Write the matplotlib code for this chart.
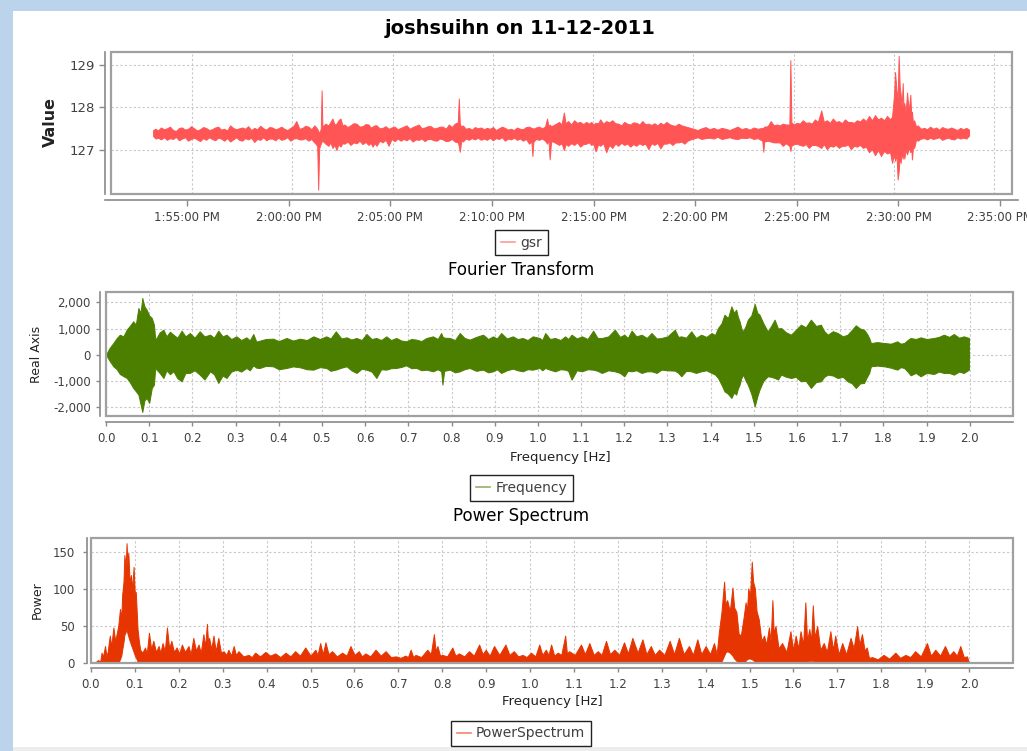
import numpy as np
import pandas as pd
import matplotlib
matplotlib.use('Agg')
import matplotlib.pyplot as plt
import matplotlib.dates as mdates
from matplotlib.patches import Rectangle
from matplotlib.lines import Line2D
from matplotlib.ticker import FuncFormatter, MultipleLocator

# gsr trace: minutes after 1:55 PM, upper / lower edge of the trace
gsr_min = [-1.94, -1.82, -1.70, -1.55, -1.40, -1.25, -1.10, -0.95, -0.80, -0.65,
           -0.50, -0.35, -0.20, -0.05, 0.10, 0.25, 0.40, 0.55, 0.70, 0.85,
           1.00, 1.15, 1.30, 1.45, 1.60, 1.75, 1.90, 2.05, 2.20, 2.35,
           2.50, 2.65, 2.80, 2.95, 3.10, 3.25, 3.40, 3.55, 3.70, 3.85,
           4.00, 4.15, 4.30, 4.45, 4.60, 4.75, 4.90, 5.05, 5.20, 5.35,
           5.50, 5.65, 5.80, 5.95, 6.10, 6.24, 6.29, 6.34, 6.42, 6.46,
           6.50, 6.65, 6.80, 6.90, 7.00, 7.10, 7.20, 7.30, 7.40, 7.50,
           7.60, 7.75, 7.90, 8.05, 8.20, 8.35, 8.50, 8.65, 8.80, 8.90,
           9.00, 9.10, 9.20, 9.35, 9.50, 9.65, 9.80, 9.95, 10.10, 10.25,
           10.40, 10.55, 10.70, 10.85, 11.00, 11.15, 11.30, 11.45, 11.60, 11.75,
           11.90, 12.05, 12.20, 12.35, 12.50, 12.65, 12.80, 12.95, 13.10, 13.25,
           13.30, 13.35, 13.42, 13.50, 13.65, 13.80, 13.95, 14.10, 14.25, 14.40,
           14.55, 14.70, 14.85, 15.00, 15.15, 15.30, 15.45, 15.60, 15.75, 15.90,
           16.05, 16.20, 16.35, 16.50, 16.65, 16.80, 16.92, 16.97, 17.02, 17.15,
           17.30, 17.45, 17.60, 17.70, 17.77, 17.83, 17.90, 18.00, 18.15, 18.30,
           18.42, 18.54, 18.62, 18.75, 18.90, 19.05, 19.20, 19.35, 19.50, 19.65,
           19.80, 19.90, 20.00, 20.12, 20.25, 20.35, 20.50, 20.65, 20.80, 20.95,
           21.10, 21.25, 21.40, 21.55, 21.70, 21.85, 22.00, 22.15, 22.30, 22.45,
           22.60, 22.75, 22.90, 23.05, 23.20, 23.35, 23.50, 23.65, 23.80, 23.95,
           24.10, 24.25, 24.40, 24.55, 24.70, 24.85, 25.00, 25.20, 25.40, 25.60,
           25.80, 26.00, 26.20, 26.40, 26.60, 26.80, 27.00, 27.20, 27.40, 27.60,
           27.80, 28.00, 28.20, 28.43, 28.48, 28.53, 28.70, 28.85, 29.00, 29.15,
           29.30, 29.45, 29.60, 29.78, 29.83, 29.88, 30.00, 30.15, 30.30, 30.45,
           30.60, 30.75, 30.90, 31.05, 31.20, 31.37, 31.50, 31.65, 31.80, 31.95,
           32.10, 32.25, 32.40, 32.55, 32.70, 32.85, 33.00, 33.15, 33.30, 33.45,
           33.60, 33.75, 33.90, 34.05, 34.20, 34.35, 34.50, 34.65, 34.80, 34.90,
           35.00, 35.05, 35.12, 35.18, 35.23, 35.28, 35.33, 35.38, 35.43, 35.47,
           35.51, 35.58, 35.65, 35.73, 35.81, 35.86, 35.89, 35.95, 36.00, 36.10,
           36.18, 36.34, 36.50, 36.65, 36.80, 36.95, 37.10, 37.25, 37.40, 37.55,
           37.70, 37.85, 38.00, 38.15, 38.30, 38.45, 38.60, 38.74]
gsr_hi = [127.47, 127.50, 127.46, 127.53, 127.49, 127.51, 127.55, 127.47, 127.45, 127.52,
          127.53, 127.48, 127.50, 127.56, 127.51, 127.46, 127.49, 127.54, 127.52, 127.47,
          127.49, 127.53, 127.55, 127.48, 127.50, 127.46, 127.58, 127.52, 127.49, 127.51,
          127.53, 127.50, 127.56, 127.47, 127.52, 127.49, 127.57, 127.51, 127.48, 127.54,
          127.53, 127.49, 127.51, 127.55, 127.50, 127.47, 127.52, 127.56, 127.68, 127.50,
          127.52, 127.57, 127.55, 127.49, 127.58, 127.50, 127.45, 127.40, 127.50, 128.40,
          127.55, 127.62, 127.58, 127.66, 127.74, 127.60, 127.62, 127.70, 127.74, 127.58,
          127.60, 127.54, 127.58, 127.63, 127.62, 127.55, 127.56, 127.61, 127.60, 127.53,
          127.55, 127.58, 127.58, 127.51, 127.52, 127.56, 127.50, 127.53, 127.55, 127.49,
          127.52, 127.55, 127.58, 127.50, 127.54, 127.57, 127.60, 127.51, 127.53, 127.56,
          127.56, 127.51, 127.52, 127.55, 127.55, 127.50, 127.60, 127.54, 127.62, 127.65,
          128.21, 127.62, 127.55, 127.58, 127.50, 127.52, 127.48, 127.54, 127.51, 127.53,
          127.49, 127.52, 127.50, 127.54, 127.47, 127.51, 127.55, 127.52, 127.48, 127.50,
          127.47, 127.53, 127.50, 127.49, 127.54, 127.55, 127.52, 127.52, 127.50, 127.53,
          127.55, 127.51, 127.55, 127.74, 127.55, 127.60, 127.56, 127.58, 127.62, 127.66,
          127.60, 127.88, 127.63, 127.68, 127.60, 127.70, 127.64, 127.66, 127.61, 127.66,
          127.62, 127.66, 127.60, 127.64, 127.63, 127.72, 127.62, 127.68, 127.65, 127.70,
          127.63, 127.62, 127.58, 127.66, 127.62, 127.60, 127.65, 127.64, 127.60, 127.68,
          127.61, 127.62, 127.59, 127.63, 127.58, 127.64, 127.60, 127.66, 127.61, 127.58,
          127.57, 127.62, 127.58, 127.56, 127.54, 127.52, 127.50, 127.47, 127.51, 127.54,
          127.49, 127.52, 127.48, 127.52, 127.50, 127.47, 127.51, 127.55, 127.49, 127.52,
          127.48, 127.53, 127.50, 127.52, 127.52, 127.55, 127.56, 127.68, 127.58, 127.60,
          127.58, 127.62, 127.60, 127.60, 129.11, 127.65, 127.60, 127.64, 127.62, 127.70,
          127.64, 127.65, 127.62, 127.72, 127.66, 127.93, 127.66, 127.70, 127.64, 127.74,
          127.66, 127.68, 127.63, 127.72, 127.66, 127.66, 127.64, 127.70, 127.67, 127.74,
          127.68, 127.80, 127.70, 127.82, 127.72, 127.76, 127.70, 127.80, 127.72, 127.78,
          128.30, 128.83, 128.40, 128.20, 129.21, 128.50, 128.30, 128.00, 128.57, 128.00,
          128.10, 127.90, 128.35, 127.90, 128.30, 127.80, 127.90, 127.60, 127.70, 127.55,
          127.58, 127.50, 127.52, 127.49, 127.55, 127.50, 127.53, 127.48, 127.54, 127.51,
          127.50, 127.53, 127.50, 127.47, 127.52, 127.49, 127.52, 127.48]
gsr_lo = [127.33, 127.27, 127.29, 127.25, 127.30, 127.24, 127.28, 127.26, 127.31, 127.23,
          127.27, 127.30, 127.22, 127.26, 127.29, 127.25, 127.21, 127.28, 127.24, 127.30,
          127.26, 127.23, 127.29, 127.27, 127.22, 127.28, 127.20, 127.25, 127.30, 127.24,
          127.22, 127.28, 127.25, 127.29, 127.19, 127.26, 127.24, 127.30, 127.23, 127.27,
          127.27, 127.23, 127.29, 127.24, 127.26, 127.30, 127.22, 127.27, 127.28, 127.25,
          127.25, 127.28, 127.22, 127.26, 127.18, 127.10, 126.07, 127.05, 127.15, 127.20,
          127.22, 127.15, 127.10, 127.18, 127.05, 127.12, 127.00, 127.14, 127.08, 127.16,
          127.15, 127.20, 127.12, 127.18, 127.16, 127.22, 127.14, 127.19, 127.12, 127.17,
          127.08, 127.16, 127.10, 127.22, 127.18, 127.24, 127.10, 127.26, 127.21, 127.27,
          127.22, 127.26, 127.23, 127.28, 127.20, 127.25, 127.24, 127.27, 127.21, 127.26,
          127.26, 127.23, 127.22, 127.27, 127.25, 127.21, 127.22, 127.26, 127.20, 127.18,
          127.10, 126.96, 127.22, 127.20, 127.27, 127.24, 127.28, 127.25, 127.29, 127.24,
          127.27, 127.24, 127.29, 127.23, 127.28, 127.26, 127.30, 127.22, 127.27, 127.25,
          127.29, 127.24, 127.27, 127.22, 127.26, 127.15, 127.20, 126.86, 127.20, 127.26,
          127.24, 127.27, 127.22, 127.15, 127.25, 126.78, 127.20, 127.20, 127.16, 127.12,
          127.16, 127.00, 127.14, 127.10, 127.16, 127.12, 127.18, 127.08, 127.14, 127.15,
          127.18, 127.12, 127.15, 126.97, 127.14, 127.10, 127.16, 126.95, 127.12, 127.05,
          127.15, 127.10, 127.17, 127.12, 127.15, 127.08, 127.14, 127.10, 127.16, 127.12,
          127.15, 127.02, 127.16, 127.12, 127.17, 127.04, 127.15, 127.15, 127.18, 127.12,
          127.18, 127.18, 127.20, 127.15, 127.22, 127.25, 127.27, 127.30, 127.26, 127.28,
          127.29, 127.27, 127.31, 127.26, 127.28, 127.30, 127.27, 127.26, 127.29, 127.28,
          127.30, 127.26, 127.28, 127.22, 126.96, 127.20, 127.22, 127.20, 127.18, 127.18,
          127.18, 127.10, 127.16, 127.10, 126.98, 127.10, 127.14, 127.15, 127.12, 127.10,
          127.14, 127.05, 127.12, 127.12, 127.10, 127.05, 127.14, 127.02, 127.10, 127.08,
          127.12, 127.05, 127.10, 127.10, 127.13, 127.02, 127.10, 127.08, 127.12, 127.05,
          127.08, 126.95, 127.02, 126.88, 127.00, 126.86, 126.98, 126.92, 126.95, 126.70,
          126.90, 126.75, 126.90, 126.31, 126.50, 126.85, 126.70, 126.95, 126.80, 127.00,
          126.80, 127.00, 126.90, 127.05, 126.95, 127.05, 126.78, 127.10, 127.05, 127.25,
          127.22, 127.27, 127.28, 127.25, 127.29, 127.26, 127.28, 127.30, 127.24, 127.27,
          127.29, 127.26, 127.25, 127.30, 127.27, 127.29, 127.27, 127.34]

# fourier transform (real part): upper / lower edge
fft_hz = [0.000, 0.008, 0.017, 0.025, 0.032, 0.040, 0.048, 0.055, 0.063, 0.069,
          0.075, 0.080, 0.084, 0.089, 0.094, 0.100, 0.106, 0.111, 0.114, 0.117,
          0.124, 0.133, 0.140, 0.148, 0.156, 0.165, 0.175, 0.184, 0.194, 0.205,
          0.217, 0.228, 0.241, 0.250, 0.260, 0.270, 0.279, 0.290, 0.302, 0.313,
          0.325, 0.333, 0.341, 0.348, 0.356, 0.370, 0.387, 0.400, 0.418, 0.433,
          0.449, 0.465, 0.480, 0.495, 0.510, 0.520, 0.532, 0.545, 0.557, 0.568,
          0.580, 0.592, 0.603, 0.615, 0.626, 0.637, 0.649, 0.660, 0.672, 0.684,
          0.695, 0.707, 0.719, 0.730, 0.742, 0.757, 0.768, 0.776, 0.779, 0.783,
          0.796, 0.808, 0.819, 0.830, 0.842, 0.857, 0.873, 0.885, 0.896, 0.905,
          0.915, 0.928, 0.942, 0.953, 0.965, 0.976, 0.988, 1.004, 1.010, 1.017,
          1.028, 1.040, 1.052, 1.063, 1.070, 1.078, 1.090, 1.102, 1.115, 1.128,
          1.138, 1.148, 1.163, 1.178, 1.190, 1.200, 1.208, 1.217, 1.228, 1.240,
          1.252, 1.263, 1.275, 1.286, 1.300, 1.317, 1.325, 1.332, 1.343, 1.355,
          1.366, 1.378, 1.390, 1.402, 1.410, 1.417, 1.425, 1.432, 1.440, 1.448,
          1.454, 1.459, 1.463, 1.467, 1.471, 1.475, 1.481, 1.486, 1.494, 1.502,
          1.508, 1.513, 1.522, 1.532, 1.540, 1.548, 1.556, 1.563, 1.575, 1.586,
          1.597, 1.609, 1.620, 1.632, 1.644, 1.655, 1.663, 1.671, 1.683, 1.694,
          1.706, 1.717, 1.727, 1.736, 1.746, 1.755, 1.762, 1.767, 1.771, 1.786,
          1.802, 1.817, 1.832, 1.840, 1.848, 1.856, 1.863, 1.875, 1.886, 1.900,
          1.917, 1.928, 1.940, 1.952, 1.963, 1.975, 1.986, 1.998]
fft_hi = [0, 250, 447, 640, 766, 700, 958, 1100, 1277, 1150,
          1788, 1600, 2171, 1850, 1724, 1500, 1405, 1149, 600, 639,
          850, 958, 700, 880, 766, 650, 919, 700, 830, 650,
          894, 700, 766, 650, 919, 700, 766, 600, 702, 560,
          664, 550, 792, 500, 536, 600, 613, 520, 639, 540,
          613, 560, 702, 600, 702, 620, 894, 620, 664, 580,
          639, 560, 792, 600, 639, 560, 702, 560, 639, 540,
          511, 600, 575, 520, 639, 702, 600, 830, 700, 650,
          639, 560, 830, 640, 575, 680, 766, 600, 702, 620,
          830, 620, 702, 600, 639, 560, 702, 639, 560, 830,
          600, 639, 560, 702, 600, 766, 620, 702, 600, 919,
          640, 639, 700, 958, 680, 766, 640, 919, 700, 766,
          640, 830, 620, 639, 700, 958, 680, 702, 650, 894,
          640, 766, 680, 830, 750, 1022, 1200, 1532, 1400, 1852,
          1600, 1724, 1450, 1277, 1000, 894, 1100, 1341, 1500, 1941,
          1600, 1532, 1200, 894, 1100, 1341, 1000, 1022, 850, 766,
          950, 1149, 1050, 1341, 1100, 1149, 900, 766, 900, 830,
          700, 766, 950, 1124, 1000, 958, 800, 639, 447, 480,
          447, 420, 511, 420, 447, 560, 639, 600, 664, 600,
          639, 680, 766, 680, 792, 650, 702, 639]
fft_lo = [0, -230, -447, -560, -741, -820, -894, -1050, -1277, -1400,
          -1532, -1900, -2196, -1750, -1660, -1850, -1277, -1149, -500, -575,
          -700, -894, -600, -750, -639, -900, -1022, -700, -702, -600,
          -766, -950, -639, -750, -1085, -800, -894, -650, -575, -650,
          -511, -600, -409, -500, -511, -430, -447, -560, -511, -450,
          -485, -560, -575, -480, -511, -620, -575, -500, -447, -600,
          -702, -540, -575, -650, -894, -560, -575, -520, -511, -470,
          -409, -520, -511, -600, -575, -639, -560, -639, -1149, -620,
          -575, -680, -639, -560, -511, -620, -575, -680, -639, -560,
          -702, -600, -537, -600, -639, -560, -575, -511, -600, -511,
          -580, -639, -560, -575, -620, -958, -600, -639, -560, -575,
          -620, -702, -600, -639, -700, -830, -620, -639, -600, -702,
          -640, -639, -700, -575, -600, -613, -700, -830, -620, -639,
          -700, -639, -600, -702, -760, -894, -1150, -1405, -1500, -1660,
          -1450, -1532, -1300, -1149, -900, -766, -1000, -1149, -1500, -1979,
          -1600, -1341, -1000, -830, -850, -894, -950, -766, -850, -894,
          -850, -1022, -1000, -1277, -1050, -1022, -850, -766, -800, -894,
          -850, -1022, -1100, -1277, -1100, -1085, -850, -702, -447, -420,
          -447, -500, -575, -480, -511, -650, -792, -700, -830, -700,
          -741, -650, -702, -700, -766, -650, -702, -575]

# power spectrum: upper / lower edge
pow_hz = [0.000, 0.010, 0.016, 0.021, 0.024, 0.027, 0.032, 0.035, 0.038, 0.041,
          0.043, 0.046, 0.051, 0.055, 0.059, 0.062, 0.066, 0.069, 0.071, 0.074,
          0.076, 0.079, 0.081, 0.083, 0.085, 0.088, 0.091, 0.094, 0.097, 0.100,
          0.102, 0.106, 0.109, 0.112, 0.117, 0.123, 0.127, 0.132, 0.137, 0.142,
          0.148, 0.154, 0.158, 0.163, 0.168, 0.173, 0.178, 0.183, 0.189, 0.195,
          0.201, 0.207, 0.214, 0.222, 0.227, 0.233, 0.239, 0.245, 0.250, 0.256,
          0.260, 0.264, 0.267, 0.269, 0.274, 0.279, 0.284, 0.290, 0.296, 0.302,
          0.308, 0.313, 0.319, 0.325, 0.330, 0.336, 0.347, 0.359, 0.366, 0.374,
          0.385, 0.397, 0.408, 0.420, 0.431, 0.443, 0.454, 0.465, 0.476, 0.488,
          0.500, 0.511, 0.516, 0.522, 0.528, 0.534, 0.541, 0.549, 0.560, 0.572,
          0.582, 0.591, 0.600, 0.610, 0.617, 0.625, 0.636, 0.648, 0.660, 0.671,
          0.683, 0.694, 0.705, 0.716, 0.722, 0.728, 0.734, 0.739, 0.752, 0.766,
          0.774, 0.781, 0.785, 0.789, 0.795, 0.800, 0.811, 0.823, 0.830, 0.838,
          0.850, 0.861, 0.872, 0.884, 0.892, 0.899, 0.908, 0.918, 0.930, 0.944,
          0.953, 0.963, 0.973, 0.983, 0.992, 1.002, 1.012, 1.021, 1.028, 1.036,
          1.042, 1.048, 1.055, 1.063, 1.071, 1.080, 1.084, 1.089, 1.102, 1.116,
          1.125, 1.135, 1.145, 1.154, 1.163, 1.173, 1.182, 1.192, 1.203, 1.214,
          1.223, 1.233, 1.245, 1.256, 1.265, 1.275, 1.284, 1.294, 1.306, 1.318,
          1.328, 1.339, 1.350, 1.362, 1.371, 1.381, 1.390, 1.400, 1.410, 1.419,
          1.425, 1.430, 1.433, 1.436, 1.439, 1.442, 1.445, 1.449, 1.455, 1.461,
          1.465, 1.470, 1.475, 1.480, 1.486, 1.491, 1.494, 1.497, 1.501, 1.505,
          1.508, 1.512, 1.516, 1.521, 1.527, 1.533, 1.538, 1.544, 1.548, 1.552,
          1.555, 1.559, 1.566, 1.574, 1.584, 1.593, 1.599, 1.605, 1.611, 1.616,
          1.622, 1.627, 1.631, 1.636, 1.640, 1.644, 1.648, 1.654, 1.661, 1.669,
          1.676, 1.684, 1.690, 1.695, 1.703, 1.711, 1.720, 1.730, 1.737, 1.745,
          1.750, 1.756, 1.762, 1.767, 1.772, 1.779, 1.792, 1.805, 1.818, 1.832,
          1.843, 1.855, 1.866, 1.877, 1.890, 1.904, 1.913, 1.923, 1.934, 1.945,
          1.955, 1.964, 1.972, 1.980, 1.988, 1.995, 2.000]
pow_hi = [0, 1, 4, 2, 14, 8, 23, 10, 15, 30,
          37, 22, 48, 30, 41, 50, 73, 60, 92, 110,
          146, 130, 162, 135, 149, 110, 119, 100, 130, 90,
          96, 46, 30, 18, 14, 21, 13, 41, 19, 30,
          15, 23, 14, 27, 16, 48, 20, 30, 15, 21,
          13, 25, 15, 23, 12, 34, 17, 25, 14, 39,
          22, 53, 25, 34, 19, 37, 16, 34, 14, 16,
          11, 18, 10, 23, 11, 16, 9, 11, 8, 14,
          9, 15, 10, 13, 8, 14, 9, 16, 10, 21,
          10, 18, 11, 27, 12, 28, 12, 16, 9, 14,
          10, 23, 11, 16, 9, 13, 9, 18, 10, 16,
          8, 9, 7, 10, 8, 18, 8, 11, 8, 18,
          12, 39, 16, 23, 10, 11, 9, 21, 10, 13,
          9, 16, 10, 25, 12, 18, 10, 23, 11, 25,
          11, 16, 9, 11, 8, 14, 9, 25, 11, 18,
          11, 25, 10, 14, 11, 37, 13, 16, 11, 25,
          12, 27, 11, 16, 11, 30, 12, 18, 11, 28,
          13, 34, 14, 32, 12, 23, 11, 18, 11, 30,
          12, 34, 12, 23, 11, 32, 12, 23, 12, 27,
          12, 41, 55, 69, 90, 110, 80, 85, 70, 102,
          75, 69, 40, 37, 60, 82, 70, 101, 90, 137,
          110, 101, 70, 59, 30, 37, 25, 48, 30, 85,
          40, 50, 20, 27, 15, 43, 18, 37, 20, 43,
          25, 82, 30, 46, 30, 78, 35, 50, 18, 27,
          15, 43, 18, 37, 12, 27, 12, 34, 20, 50,
          25, 39, 17, 21, 7, 8, 5, 11, 6, 14,
          7, 11, 8, 16, 9, 27, 10, 18, 10, 23,
          10, 16, 10, 23, 8, 9, 0]
pow_lo = [0, 0, 0, 0, 0, 0, 0, 0, 0, 0,
          0, 0, 0, 0, 0, 0, 5, 10, 18, 28,
          38, 42, 46, 40, 36, 30, 25, 20, 15, 10,
          8, 2, 0, 0, 0, 0, 0, 0, 0, 0,
          0, 0, 0, 0, 0, 0, 0, 0, 0, 0,
          0, 0, 0, 0, 0, 0, 0, 0, 0, 0,
          0, 0, 0, 0, 0, 0, 0, 0, 0, 0,
          0, 0, 0, 0, 0, 0, 0, 0, 0, 0,
          0, 0, 0, 0, 0, 0, 0, 0, 0, 0,
          0, 0, 0, 0, 0, 0, 0, 0, 0, 0,
          0, 0, 0, 0, 0, 0, 0, 0, 0, 0,
          0, 0, 0, 0, 0, 0, 0, 0, 0, 0,
          0, 0, 0, 0, 0, 0, 0, 0, 0, 0,
          0, 0, 0, 0, 0, 0, 0, 0, 0, 0,
          0, 0, 0, 0, 0, 0, 0, 0, 0, 0,
          0, 0, 0, 0, 0, 0, 0, 0, 0, 0,
          0, 0, 0, 0, 0, 0, 0, 0, 0, 0,
          0, 0, 0, 0, 0, 0, 0, 0, 0, 0,
          0, 0, 0, 0, 0, 0, 0, 0, 0, 0,
          0, 0, 0, 2, 6, 10, 14, 16, 14, 10,
          6, 3, 0, 0, 0, 3, 5, 6, 6, 5,
          4, 2, 0, 0, 0, 0, 0, 0, 0, 0,
          0, 0, 0, 0, 0, 0, 0, 0, 0, 0,
          0, 0, 2, 3, 3, 3, 2, 0, 0, 0,
          0, 0, 0, 0, 0, 0, 0, 0, 0, 0,
          0, 0, 0, 0, 0, 0, 0, 0, 0, 0,
          0, 0, 0, 0, 0, 0, 0, 0, 0, 0,
          0, 0, 0, 0, 0, 0, 0]

GSR_C = '#FF5555'
FFT_C = '#4C7F00'
POW_C = '#E63500'
GRID_C = '#C8C8C8'
BOX_C = '#A0A0A0'
AXIS_C = '#8A8A8A'
TXT_C = '#404040'

W, H = 1027, 751
fig = plt.figure(figsize=(W / 100, H / 100), dpi=100)
fig.patch.set_facecolor('white')

# window frame
fig.patches.append(Rectangle((0, 0), 13 / W, 1, transform=fig.transFigure,
                             facecolor='#BCD3EC', edgecolor='none', zorder=0))
fig.patches.append(Rectangle((0, 1 - 11 / H), 1, 11 / H, transform=fig.transFigure,
                             facecolor='#BCD3EC', edgecolor='none', zorder=0))
fig.patches.append(Rectangle((13 / W, 0), 1, 4 / H, transform=fig.transFigure,
                             facecolor='#EDEDED', edgecolor='none', zorder=0))


def px_axes(x0, y0, x1, y1):
    return fig.add_axes([x0 / W, 1 - y1 / H, (x1 - x0) / W, (y1 - y0) / H])


def pt(px):
    return px * 72 / 100


def style_box(ax, left_off, bottom_off):
    for s in ['top', 'right']:
        ax.spines[s].set_visible(False)
    ax.spines['left'].set_position(('outward', pt(left_off)))
    ax.spines['left'].set_color(AXIS_C)
    ax.spines['left'].set_linewidth(1.2)
    if bottom_off is None:
        ax.spines['bottom'].set_visible(False)
    else:
        ax.spines['bottom'].set_position(('outward', pt(bottom_off)))
        ax.spines['bottom'].set_color(AXIS_C)
        ax.spines['bottom'].set_linewidth(1.2)
    ax.add_patch(Rectangle((0, 0), 1, 1, transform=ax.transAxes, fill=False,
                           edgecolor=BOX_C, linewidth=1.6, zorder=5, clip_on=False))
    ax.grid(True, color=GRID_C, linestyle=(0, (2, 2)), linewidth=0.8)
    ax.set_axisbelow(True)
    ax.tick_params(colors=AXIS_C, labelcolor=TXT_C, length=3, width=1, labelsize=8.5)


def legend_at(cx, cy, label, color):
    h = [Line2D([], [], color=color, lw=1.2, alpha=0.6)]
    leg = fig.legend(h, [label], loc='center', bbox_to_anchor=(cx / W, 1 - cy / H),
                     fontsize=10, handlelength=1.0, handletextpad=0.4,
                     borderpad=0.4, fancybox=False, framealpha=1)
    leg.get_frame().set_edgecolor('#222222')
    leg.get_frame().set_linewidth(1.0)
    for t in leg.get_texts():
        t.set_color(TXT_C)


# ---- gsr panel ----
t0 = pd.Timestamp('2011-11-12 13:55:00')
gsr_t = mdates.date2num(t0 + pd.to_timedelta(gsr_min, unit='min'))
xlim1 = (mdates.date2num(t0 + pd.Timedelta(minutes=-4.04)),
         mdates.date2num(t0 + pd.Timedelta(minutes=40.88)))

ax1 = px_axes(111, 52, 1012, 194)
style_box(ax1, 6, None)
ax1.fill_between(gsr_t, gsr_lo, gsr_hi, color=GSR_C, edgecolor=GSR_C, linewidth=0.7)
ax1.set_xlim(*xlim1)
ax1.set_ylim(125.97, 129.3)
ax1.xaxis.set_major_locator(mdates.MinuteLocator(byminute=range(0, 60, 5)))
ax1.tick_params(axis='x', bottom=False, labelbottom=False)
ax1.set_yticks([127, 128, 129])
ax1.tick_params(axis='y', labelsize=9.5, length=4, pad=3)

# time axis drawn a little wider than the plot area
tax = px_axes(105, 199, 1018, 200)
tax.patch.set_visible(False)
for s in ['top', 'right', 'left']:
    tax.spines[s].set_visible(False)
tax.spines['bottom'].set_color(AXIS_C)
tax.spines['bottom'].set_linewidth(1.2)
tax.set_xlim(*xlim1)
tax.set_yticks([])
tax.xaxis.set_major_locator(mdates.MinuteLocator(byminute=range(0, 60, 5)))
tax.xaxis.set_major_formatter(FuncFormatter(
    lambda v, p: mdates.num2date(v).strftime('%I:%M:%S %p').lstrip('0')))
tax.tick_params(colors=AXIS_C, labelcolor=TXT_C, length=4, width=1, labelsize=8.5, pad=4)

fig.text(520 / W, 1 - 28 / H, 'joshsuihn on 11-12-2011', ha='center', va='center',
         fontsize=14, fontweight='bold', color='black')
fig.text(50 / W, 1 - 122 / H, 'Value', rotation=90, ha='center', va='center',
         fontsize=11.5, fontweight='bold', color='#222222')
legend_at(521.5, 242.5, 'gsr', GSR_C)

# ---- fourier transform panel ----
fig.text(521 / W, 1 - 270 / H, 'Fourier Transform', ha='center', va='center',
         fontsize=12, color='black')
ax2 = px_axes(106, 292, 1013, 416)
style_box(ax2, 6, 6)
ax2.fill_between(fft_hz, fft_lo, fft_hi, color=FFT_C, edgecolor=FFT_C, linewidth=0.7)
ax2.set_xlim(0, 2.1)
ax2.set_ylim(-2350, 2400)
ax2.set_xticks(np.round(np.arange(0, 2.01, 0.1), 1))
ax2.xaxis.set_major_formatter(FuncFormatter(lambda v, p: f'{v:.1f}'))
ax2.set_yticks([-2000, -1000, 0, 1000, 2000])
ax2.yaxis.set_major_formatter(FuncFormatter(lambda v, p: f'{v:,.0f}'))
ax2.tick_params(axis='x', pad=4)
fig.text(560 / W, 1 - 457 / H, 'Frequency [Hz]', ha='center', va='center',
         fontsize=9.5, color='#222222')
fig.text(37 / W, 1 - 354 / H, 'Real Axis', rotation=90, ha='center', va='center',
         fontsize=9, color='#222222')
legend_at(521.5, 488, 'Frequency', FFT_C)

# ---- power spectrum panel ----
fig.text(521 / W, 1 - 516 / H, 'Power Spectrum', ha='center', va='center',
         fontsize=12, color='black')
ax3 = px_axes(91, 538, 1013, 663)
style_box(ax3, 4, 5)
ax3.fill_between(pow_hz, pow_lo, pow_hi, color=POW_C, edgecolor=POW_C, linewidth=0.7)
ax3.set_xlim(0, 2.1)
ax3.set_ylim(0, 169)
ax3.set_xticks(np.round(np.arange(0, 2.01, 0.1), 1))
ax3.xaxis.set_major_formatter(FuncFormatter(lambda v, p: f'{v:.1f}'))
ax3.yaxis.set_major_locator(MultipleLocator(50))
ax3.tick_params(axis='x', pad=4)
ax3.tick_params(axis='y', pad=6)
fig.text(552 / W, 1 - 702 / H, 'Frequency [Hz]', ha='center', va='center',
         fontsize=9.5, color='#222222')
fig.text(37 / W, 1 - 600 / H, 'Power', rotation=90, ha='center', va='center',
         fontsize=9, color='#222222')
legend_at(521, 733.5, 'PowerSpectrum', POW_C)

fig.savefig('out.png', dpi=100, facecolor=fig.get_facecolor())
